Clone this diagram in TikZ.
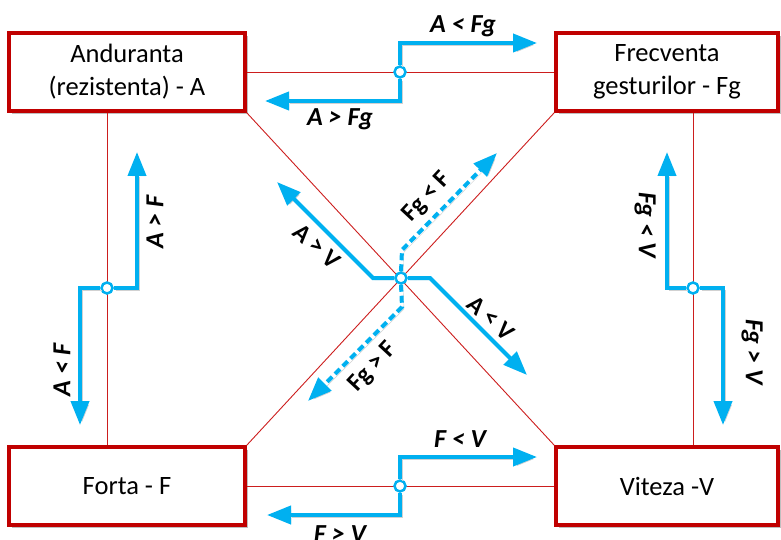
\documentclass[tikz,border=0pt]{standalone}
\usepackage{fontspec}
\setmainfont{Carlito}
\usetikzlibrary{arrows.meta,shadows}
\definecolor{boxred}{RGB}{192,0,0}
\definecolor{linkred}{RGB}{204,30,30}
\definecolor{arrblue}{RGB}{0,176,240}
\begin{document}
\begin{tikzpicture}[x=1pt,y=-1pt,
 box/.style={draw=boxred, line width=3.5pt, fill=white, minimum height=78pt, align=center,
   font=\fontsize{26.5}{33}\selectfont, inner sep=0pt,
   drop shadow={shadow xshift=3pt,shadow yshift=-3pt,fill=black!25,opacity=1}},
 link/.style={draw=linkred, line width=0.9pt},
 flow/.style={draw=arrblue, line width=4pt, -{Triangle[length=24pt,width=18pt]},
   preaction={draw=black!18, transform canvas={shift={(2pt,-2pt)}}}},
 dflow/.style={flow, dash pattern=on 7pt off 4pt},
 hub/.style={circle, draw=arrblue, fill=white, line width=2.5pt, minimum size=11pt, inner sep=0pt},
 lab/.style={font=\fontsize{26}{28}\selectfont\bfseries\itshape, inner sep=0pt},
 clab/.style={font=\fontsize{25}{28}\selectfont\bfseries, inner sep=0pt}]
\useasboundingbox (0,0) rectangle (781,540);

% boxes
\node[box, minimum width=236pt] (A)  at (127,72)  {Anduranta\\(rezistenta) - A};
\node[box, minimum width=222pt] (Fg) at (667,72)  {Frecventa\\gesturilor - Fg};
\node[box, minimum width=236pt] (F)  at (127,486) {Forta - F};
\node[box, minimum width=222pt] (V)  at (667,486) {Viteza -V};

% hub positions
\coordinate (pt) at (400,72);
\coordinate (pb) at (400,486);
\coordinate (pl) at (107,288);
\coordinate (pr) at (693,288);
\coordinate (pc) at (401,278);

% thin red links
\draw[link] (A.east) -- (Fg.west);
\draw[link] (F.east) -- (V.west);
\draw[link] (pl |- A.south) -- (pl |- F.north);
\draw[link] (pr |- Fg.south) -- (pr |- V.north);
\draw[link] (A.south east) -- (V.north west);
\draw[link] (Fg.south west) -- (F.north east);

% hubs
\node[hub] (ct) at (pt) {};
\node[hub] (cb) at (pb) {};
\node[hub] (cl) at (pl) {};
\node[hub] (cr) at (pr) {};
\node[hub] (cc) at (pc) {};

% arrow ends
\coordinate (tR) at (537,43);
\coordinate (tL) at (265,101);
\coordinate (bR) at (537,457);
\coordinate (bL) at (267,515);
\coordinate (lU) at (137,152);
\coordinate (lD) at (80,425);
\coordinate (rU) at (667,152);
\coordinate (rD) at (723,425);
\coordinate (cUL) at (277,182);
\coordinate (cDR) at (527,375);
\coordinate (cUR) at (497,153);
\coordinate (cDL) at (308,401);

% flows
\draw[flow] (ct.north) |- (tR);
\draw[flow] (ct.south) |- (tL);
\draw[flow] (cb.north) |- (bR);
\draw[flow] (cb.south) |- (bL);
\draw[flow] (cl.east) -| (lU);
\draw[flow] (cl.west) -| (lD);
\draw[flow] (cr.west) -| (rU);
\draw[flow] (cr.east) -| (rD);
\draw[flow] (cc.west) -- (373,278) -- (cUL);
\draw[flow] (cc.east) -- (430,278) -- (cDR);
\draw[dflow] (cc.north) -- (402,250) -- (cUR);
\draw[dflow] (cc.south) -- (402,307) -- (cDL);

% labels
\node[lab] (l1) at (463,26)  {A < Fg};
\node[lab] (l2) at (340,119) {A > Fg};
\node[lab] (l3) at (460,439) {F < V};
\node[lab] (l4) at (340,534) {F > V};
\node[lab, rotate=90]  (l5) at (155,222) {A > F};
\node[lab, rotate=90]  (l6) at (62,370)  {A < F};
\node[lab, rotate=-90] (l7) at (645,225) {Fg < V};
\node[lab, rotate=-90] (l8) at (752,352) {Fg > V};
\node[clab, rotate=-42] (l9)  at (317,246) {A > V};
\node[clab, rotate=-42] (l10) at (491,318) {A < V};
\node[clab, rotate=47]  (l11) at (427,197) {Fg < F};
\node[clab, rotate=47]  (l12) at (373,367) {Fg > F};
\end{tikzpicture}
\end{document}
